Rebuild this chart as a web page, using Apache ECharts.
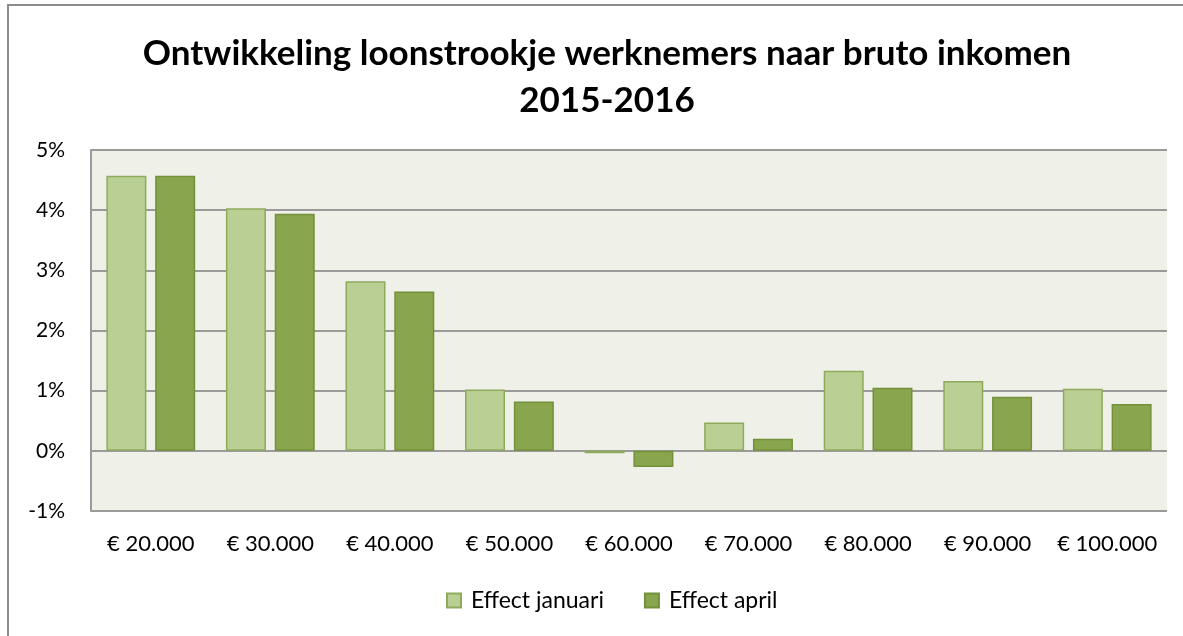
<!DOCTYPE html>
<html>
<head>
<meta charset="utf-8">
<script src="https://cdn.jsdelivr.net/npm/echarts@6/dist/echarts.min.js"></script>
<style>
  html, body { margin: 0; padding: 0; background: #fff; }
  #main { width: 1183px; height: 636px; }
</style>
</head>
<body>
<div id="main"></div>
<script>
// data (percent)
var categories = ["€ 20.000", "€ 30.000", "€ 40.000", "€ 50.000", "€ 60.000", "€ 70.000", "€ 80.000", "€ 90.000", "€ 100.000"];
var effectJanuari = [4.57, 4.03, 2.82, 1.02, -0.04, 0.47, 1.33, 1.16, 1.03];
var effectApril = [4.57, 3.94, 2.65, 0.82, -0.27, 0.20, 1.05, 0.90, 0.78];

var chartDom = document.getElementById("main");
var myChart = echarts.init(chartDom, null, { renderer: "canvas" });

var font = "Lato, 'Open Sans', sans-serif";

var option = {
  animation: false,
  textStyle: { fontFamily: font },
  title: {
    text: "Ontwikkeling loonstrookje werknemers naar bruto inkomen\n2015-2016",
    left: 602,
    textAlign: "center",
    top: 25,
    textStyle: {
      fontFamily: font,
      fontWeight: "bold",
      fontSize: 35,
      lineHeight: 47,
      color: "#000",
    },
  },
  graphic: [
    {
      type: "rect",
      shape: { x: 8, y: 5, width: 1200, height: 700 },
      style: { fill: null, stroke: "#8c8c8c", lineWidth: 2 },
      silent: true,
    },
  ],
  legend: {
    bottom: 19,
    left: 441,
    icon: "rect",
    itemWidth: 14,
    itemHeight: 14,
    itemGap: 40,
    textStyle: { fontSize: 23, color: "#000", fontFamily: font, padding: [0, 0, 0, 5] },
    data: ["Effect januari", "Effect april"],
  },
  grid: {
    left: 91,
    right: 16,
    top: 150,
    bottom: 125,
    show: true,
    backgroundColor: "#eff1e9",
    borderWidth: 0,
  },
  xAxis: [
    {
      type: "category",
      data: categories,
      axisLine: { show: false },
      axisTick: { show: false },
      axisLabel: { fontSize: 22, color: "#000", margin: 22, interval: 0 },
    },
  ],
  yAxis: [
    {
      type: "value",
      min: -1,
      max: 5,
      interval: 1,
      axisLine: { show: true, lineStyle: { color: "#9a9a9a", width: 2 } },
      axisTick: { show: false },
      axisLabel: {
        fontSize: 21,
        color: "#000",
        margin: 26,
        formatter: function (v) { return v + "%"; },
      },
      splitLine: { show: true, lineStyle: { color: "#9a9a9a", width: 2 } },
    },
  ],
  series: [
    {
      name: "Effect januari",
      type: "bar",
      data: effectJanuari,
      barWidth: 40,
      barGap: "22%",
      itemStyle: { color: "#bacf94", borderColor: "#8eab5c", borderWidth: 1.5 },
    },
    {
      name: "Effect april",
      type: "bar",
      data: effectApril,
      barWidth: 40,
      barGap: "22%",
      itemStyle: { color: "#89a54e", borderColor: "#73903a", borderWidth: 1.5 },
    },
  ],
};

myChart.setOption(option);
</script>
</body>
</html>
